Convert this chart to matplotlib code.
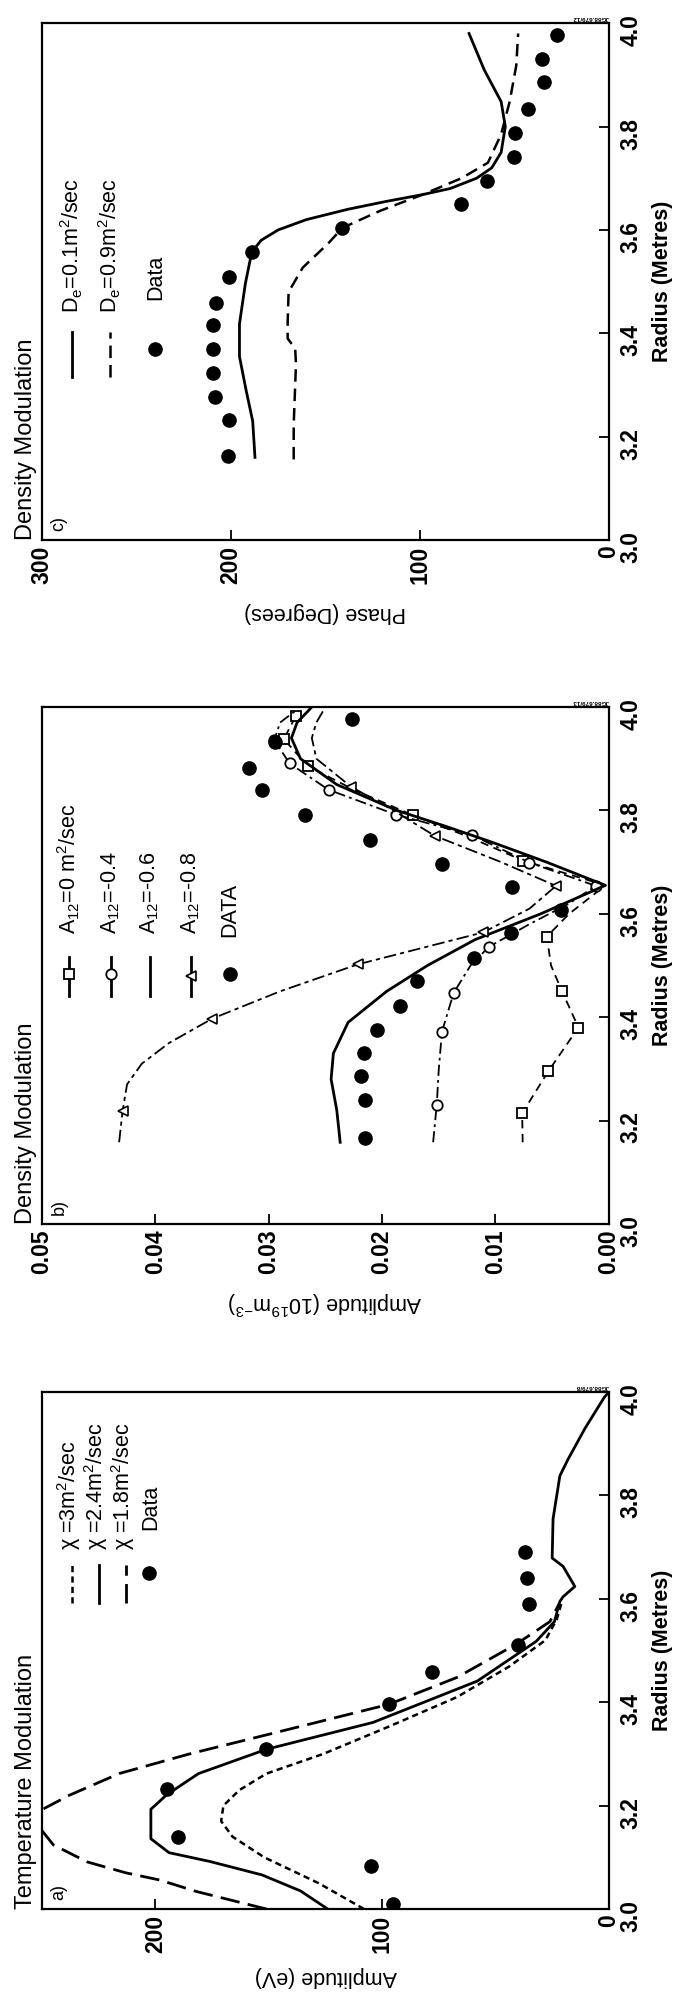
import numpy as np
import matplotlib
matplotlib.use("Agg")
import matplotlib.pyplot as plt

plt.rcParams.update({
    "font.family": ["Liberation Sans", "DejaVu Sans"],
    "mathtext.fontset": "custom",
    "mathtext.rm": "Liberation Sans",
    "mathtext.it": "Liberation Sans:italic",
    "mathtext.bf": "Liberation Sans:bold",
    "lines.scale_dashes": False,
})

# ---------------- panel a: temperature modulation ----------------
r_chi3 = [3.00, 3.05, 3.10, 3.14, 3.17, 3.20, 3.23, 3.262, 3.30, 3.353, 3.41, 3.469, 3.52, 3.56, 3.59]
amp_chi3 = [108, 128, 152, 166, 171, 170, 163, 151, 126, 97, 67, 44, 28, 23, 21]

r_chi24 = [3.00, 3.035, 3.066, 3.092, 3.109, 3.136, 3.193, 3.221, 3.262, 3.309, 3.361, 3.441,
           3.518, 3.556, 3.595, 3.604, 3.624, 3.663, 3.679, 3.755, 3.838, 3.87, 3.93, 3.99, 4.0]
amp_chi24 = [124, 136, 153, 176, 194, 202, 202, 195, 181, 151, 104, 58,
             32, 24, 21.6, 20.2, 15, 20.2, 25, 24.6, 21.6, 18, 10.5, 2, 0]

r_chi18 = [3.00, 3.034, 3.056, 3.07, 3.091, 3.124, 3.157, 3.175, 3.19, 3.22, 3.262, 3.30,
           3.338, 3.396, 3.448, 3.512, 3.556, 3.59]
amp_chi18 = [151, 182, 198, 213, 230, 245, 251, 256, 251, 238, 216, 185,
             150, 97, 67, 41, 26, 22]

r_temp_data = [3.01, 3.083, 3.14, 3.232, 3.309, 3.397, 3.458, 3.51, 3.59, 3.64, 3.69]
amp_temp_data = [95, 105, 190, 195, 151, 97, 78, 40, 35, 36, 37]

# ---------------- panel b: density modulation amplitude ----------------
r_a0 = [3.158, 3.214, 3.295, 3.38, 3.45, 3.50, 3.556, 3.60, 3.655, 3.703, 3.75, 3.791,
        3.84, 3.886, 3.938, 3.983]
amp_a0 = [0.0076, 0.00765, 0.00535, 0.00268, 0.00413, 0.0051, 0.00547, 0.0035, 0.0003,
          0.00757, 0.0125, 0.01732, 0.0225, 0.02657, 0.02867, 0.0276]
r_a0_mk = [3.214, 3.295, 3.38, 3.45, 3.556, 3.703, 3.791, 3.886, 3.938, 3.983]
amp_a0_mk = [0.00765, 0.00535, 0.00268, 0.00413, 0.00547, 0.00757, 0.01732, 0.02657, 0.02867, 0.0276]

r_a04 = [3.158, 3.231, 3.30, 3.372, 3.447, 3.50, 3.536, 3.58, 3.62, 3.654, 3.699, 3.752,
         3.792, 3.84, 3.891, 3.936, 3.97, 3.995]
amp_a04 = [0.0155, 0.01518, 0.0150, 0.01472, 0.01369, 0.0122, 0.01059, 0.0070, 0.0035,
           0.00115, 0.0070, 0.01204, 0.01881, 0.02473, 0.02817, 0.02951, 0.0290, 0.0275]
r_a04_mk = [3.231, 3.372, 3.447, 3.536, 3.654, 3.699, 3.752, 3.792, 3.84, 3.891, 3.936]
amp_a04_mk = [0.01518, 0.01472, 0.01369, 0.01059, 0.00115, 0.0070, 0.01204, 0.01881,
              0.02473, 0.02817, 0.02951]

r_a06 = [3.158, 3.22, 3.28, 3.33, 3.39, 3.45, 3.50, 3.55, 3.60, 3.655, 3.70, 3.74, 3.77,
         3.80, 3.85, 3.90, 3.94, 3.97, 4.0]
amp_a06 = [0.0237, 0.0240, 0.0245, 0.0243, 0.0230, 0.0196, 0.0160, 0.0118, 0.0060, 0.0003,
           0.0055, 0.0105, 0.0145, 0.0187, 0.0240, 0.0272, 0.0280, 0.0275, 0.0262]

r_a08 = [3.158, 3.218, 3.27, 3.31, 3.35, 3.397, 3.45, 3.502, 3.564, 3.61, 3.654, 3.70,
         3.751, 3.80, 3.846, 3.90, 3.94, 3.97, 4.0]
amp_a08 = [0.0432, 0.0429, 0.0425, 0.0412, 0.0388, 0.0350, 0.0290, 0.02217, 0.01109, 0.0070,
           0.00466, 0.0095, 0.01537, 0.0190, 0.02275, 0.0258, 0.0262, 0.0258, 0.0250]
r_a08_mk = [3.218, 3.397, 3.502, 3.564, 3.654, 3.751, 3.846]
amp_a08_mk = [0.0429, 0.0350, 0.02217, 0.01109, 0.00466, 0.01537, 0.02275]

r_dens_data = [3.167, 3.239, 3.286, 3.331, 3.376, 3.421, 3.470, 3.515, 3.562, 3.607, 3.652,
               3.697, 3.743, 3.791, 3.840, 3.883, 3.932, 3.977]
amp_dens_data = [0.02148, 0.02148, 0.02187, 0.0216, 0.02045, 0.01846, 0.01693, 0.01193, 0.0086,
                 0.0042, 0.0085, 0.01472, 0.0211, 0.02676, 0.03058, 0.03173, 0.02943, 0.02267]

# ---------------- panel c: density modulation phase ----------------
r_d01 = [3.16, 3.23, 3.29, 3.355, 3.418, 3.496, 3.557, 3.58, 3.60, 3.62, 3.64, 3.655,
         3.668, 3.68, 3.70, 3.72, 3.75, 3.80, 3.848, 3.91, 3.98]
ph_d01 = [187.3, 188.5, 192, 195.5, 195.5, 192.4, 189, 184, 175, 160, 138, 118,
          99, 84, 70, 62, 57, 54.8, 57, 66, 74]

r_d09 = [3.156, 3.223, 3.34, 3.37, 3.39, 3.42, 3.48, 3.527, 3.574, 3.604, 3.637, 3.668,
         3.70, 3.73, 3.785, 3.848, 3.918, 3.98]
ph_d09 = [166.8, 166.8, 165.6, 166, 170, 170, 169.5, 162, 148.5, 141, 121, 98.8,
          78, 64, 57, 52.5, 49, 48]

r_phase_data = [3.162, 3.232, 3.276, 3.323, 3.370, 3.416, 3.459, 3.508, 3.557, 3.604, 3.65,
                3.695, 3.742, 3.787, 3.834, 3.886, 3.93, 3.977]
ph_phase_data = [201.5, 201, 208.6, 209.5, 209.5, 209.5, 207.9, 201, 189, 141, 78,
                 64.4, 50.3, 49.8, 42.9, 34.3, 35.4, 27.4]

radius_ticks = [3.0, 3.2, 3.4, 3.6, 3.8, 4.0]


def style_axes(ax, xmax, xticks, xticklabels, xlabel, xlabel_y, title, letter, code):
    ax.set_xlim(xmax, 0)
    ax.set_ylim(3.0, 4.0)
    ax.yaxis.tick_right()
    ax.yaxis.set_label_position("right")
    ax.set_yticks(radius_ticks)
    ax.set_yticklabels([f"{t:.1f}" for t in radius_ticks], fontweight="bold")
    ax.set_xticks(xticks)
    ax.set_xticklabels(xticklabels, fontweight="bold")
    ax.tick_params(direction="in", length=7, width=1.3, labelsize=16.5,
                   top=False, left=False, right=True, bottom=True)
    ax.tick_params(axis="y", labelrotation=90, pad=7.5)
    ax.tick_params(axis="x", labelrotation=90, pad=4)
    for s in ax.spines.values():
        s.set_linewidth(1.6)
    ax.set_xlabel(xlabel, rotation=180, fontsize=15.5, va="center")
    ax.xaxis.set_label_coords(0.5, xlabel_y)
    ax.set_ylabel("Radius (Metres)", rotation=90, fontsize=15.5, fontweight="bold", va="center")
    ax.yaxis.set_label_coords(1.095, 0.5)
    ax.text(-0.009, 0.0, title, rotation=90, ha="right", va="bottom", fontsize=17,
            transform=ax.transAxes)
    ax.text(0.03, 0.017, letter, rotation=90, ha="center", va="bottom", fontsize=13,
            transform=ax.transAxes)
    ax.text(1.0, 1.006, code, rotation=180, ha="right", va="bottom", fontsize=4.5,
            fontweight="bold", transform=ax.transAxes)


def legend_line(ax, x, y0, y1, **kw):
    ax.plot([x, x], [y0, y1], transform=ax.transAxes, color="black", clip_on=False, **kw)


def legend_text(ax, x, y, s, size=15.5):
    ax.text(x, y, s, rotation=90, ha="center", va="bottom", fontsize=size,
            transform=ax.transAxes)


fig = plt.figure(figsize=(6.78, 19.95), dpi=100)
ax_c = fig.add_axes([0.062, 0.7293, 0.836, 0.2591])
ax_b = fig.add_axes([0.062, 0.3865, 0.836, 0.2591])
ax_a = fig.add_axes([0.062, 0.0431, 0.836, 0.2591])

# ---- panel a ----
ax_a.plot(amp_chi3, r_chi3, color="black", lw=1.8, dashes=(4.5, 3))
ax_a.plot(amp_chi24, r_chi24, color="black", lw=2.0)
ax_a.plot(amp_chi18, r_chi18, color="black", lw=2.0, dashes=(14, 6))
ax_a.plot(amp_temp_data, r_temp_data, "o", color="black", ms=9.5)
style_axes(ax_a, 250, [200, 100, 0], ["200", "100", "0"], "Amplitude (eV)", -0.13,
           "Temperature Modulation", "a)", "JG88.679/8")
legend_line(ax_a, 0.053, 0.592, 0.665, lw=1.8, dashes=(4.5, 3))
legend_line(ax_a, 0.101, 0.592, 0.665, lw=2.0)
legend_line(ax_a, 0.149, 0.592, 0.665, lw=2.0, dashes=(14, 6))
ax_a.plot([0.189], [0.65], "o", color="black", ms=9.5, transform=ax_a.transAxes)
legend_text(ax_a, 0.047, 0.694, r"χ =3m$^{\mathregular{2}}$/sec")
legend_text(ax_a, 0.095, 0.694, r"χ =2.4m$^{\mathregular{2}}$/sec")
legend_text(ax_a, 0.143, 0.694, r"χ =1.8m$^{\mathregular{2}}$/sec")
legend_text(ax_a, 0.191, 0.733, "Data")

# ---- panel b ----
ax_b.plot(amp_a0, r_a0, color="black", lw=1.3, dashes=(6, 4))
ax_b.plot(amp_a0_mk, r_a0_mk, "s", color="black", mfc="white", mew=1.3, ms=7)
ax_b.plot(amp_a04, r_a04, color="black", lw=1.3, dashes=(8, 3, 2, 3))
ax_b.plot(amp_a04_mk, r_a04_mk, "o", color="black", mfc="white", mew=1.3, ms=7.5)
ax_b.plot(amp_a06, r_a06, color="black", lw=2.0)
ax_b.plot(amp_a08, r_a08, color="black", lw=1.3, dashes=(9, 3, 3, 3))
ax_b.plot(amp_a08_mk, r_a08_mk, "<", color="black", mfc="white", mew=1.2, ms=6.5)
ax_b.plot(amp_dens_data, r_dens_data, "o", color="black", ms=9.5)
style_axes(ax_b, 0.05, [0.05, 0.04, 0.03, 0.02, 0.01, 0.0],
           ["0.05", "0.04", "0.03", "0.02", "0.01", "0.00"],
           r"Amplitude (10$^{\mathregular{19}}$m$^{\mathregular{-3}}$)", -0.153,
           "Density Modulation", "b)", "JG88.679/13")
legend_line(ax_b, 0.048, 0.44, 0.517, lw=2.0)
ax_b.plot([0.048], [0.483], "s", color="black", mfc="white", mew=1.3, ms=7, transform=ax_b.transAxes)
legend_line(ax_b, 0.121, 0.44, 0.517, lw=2.0)
ax_b.plot([0.121], [0.483], "o", color="black", mfc="white", mew=1.3, ms=7.5, transform=ax_b.transAxes)
legend_line(ax_b, 0.19, 0.44, 0.517, lw=2.0)
legend_line(ax_b, 0.262, 0.44, 0.517, lw=2.0)
ax_b.plot([0.262], [0.479], "<", color="black", mfc="white", mew=1.2, ms=6.5, transform=ax_b.transAxes)
ax_b.plot([0.331], [0.483], "o", color="black", ms=9.5, transform=ax_b.transAxes)
legend_text(ax_b, 0.048, 0.56, r"A$_{\mathregular{12}}$=0 m$^{\mathregular{2}}$/sec")
legend_text(ax_b, 0.121, 0.56, r"A$_{\mathregular{12}}$=-0.4")
legend_text(ax_b, 0.19, 0.56, r"A$_{\mathregular{12}}$=-0.6")
legend_text(ax_b, 0.262, 0.56, r"A$_{\mathregular{12}}$=-0.8")
legend_text(ax_b, 0.331, 0.556, "DATA")

# ---- panel c ----
ax_c.plot(ph_d01, r_d01, color="black", lw=2.0)
ax_c.plot(ph_d09, r_d09, color="black", lw=1.8, dashes=(9, 5))
ax_c.plot(ph_phase_data, r_phase_data, "o", color="black", ms=9.5)
style_axes(ax_c, 300, [300, 200, 100, 0], ["300", "200", "100", "0"],
           "Phase (Degrees)", -0.14, "Density Modulation", "c)", "JG88.679/12")
legend_line(ax_c, 0.052, 0.316, 0.402, lw=2.0)
legend_line(ax_c, 0.12, 0.316, 0.402, lw=1.8, dashes=(9, 5))
ax_c.plot([0.2], [0.37], "o", color="black", ms=9.5, transform=ax_c.transAxes)
legend_text(ax_c, 0.052, 0.44, r"D$_{\mathregular{e}}$=0.1m$^{\mathregular{2}}$/sec")
legend_text(ax_c, 0.12, 0.44, r"D$_{\mathregular{e}}$=0.9m$^{\mathregular{2}}$/sec")
legend_text(ax_c, 0.2, 0.465, "Data")

fig.savefig("out.png", dpi=100)
